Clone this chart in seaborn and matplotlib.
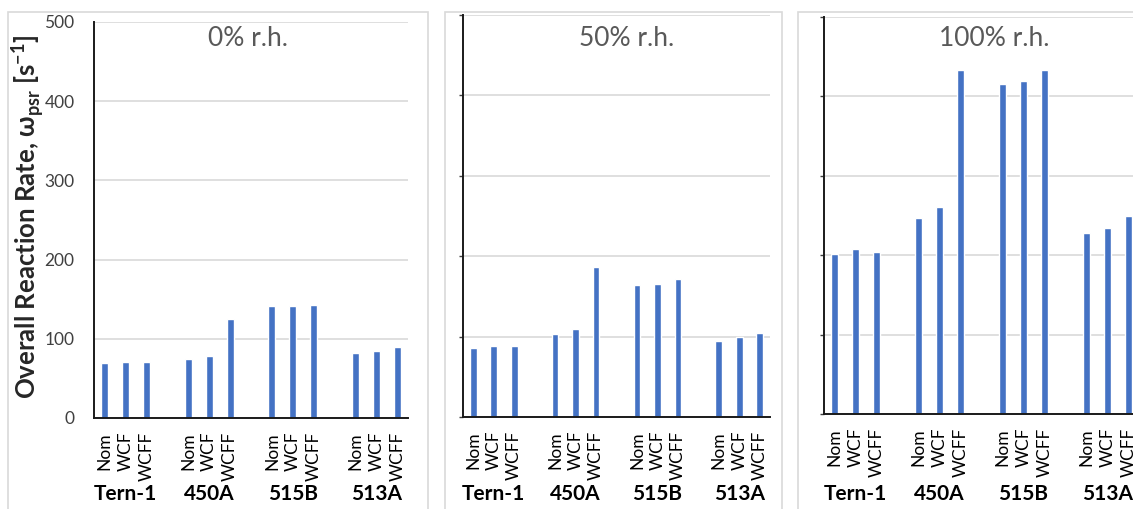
import pandas as pd
import matplotlib.pyplot as plt
import matplotlib.transforms as mtransforms
from matplotlib.patches import Rectangle
import seaborn as sns

# data
groups = ["Tern-1", "450A", "515B", "513A"]
variants = ["Nom", "WCF", "WCFF"]
humidity = ["0% r.h.", "50% r.h.", "100% r.h."]

rate_0rh = [69, 71, 71, 75, 78, 125, 141, 141, 143, 82, 84, 90]
rate_50rh = [86, 88, 88, 103, 110, 186, 164, 166, 172, 95, 99, 105]
rate_100rh = [202, 208, 204, 247, 261, 433, 416, 420, 433, 228, 234, 249]

yticks = [0, 100, 200, 300, 400, 500]

sns.set_theme(style="white")
plt.rcParams['font.family'] = ['Lato', 'DejaVu Sans']
plt.rcParams['mathtext.fontset'] = 'custom'
plt.rcParams['mathtext.rm'] = 'Lato'
plt.rcParams['mathtext.bf'] = 'Lato:bold'

rows = []
for rh, vals in zip(humidity, [rate_0rh, rate_50rh, rate_100rh]):
    i = 0
    for g in groups:
        for v in variants:
            rows.append({"rh": rh, "slot": f"{g} {v}", "rate": vals[i]})
            i += 1
df = pd.DataFrame(rows)

# category order, with one empty slot between groups
order = []
for k, g in enumerate(groups):
    order += [f"{g} {v}" for v in variants]
    if k < len(groups) - 1:
        order.append(f"gap{k}")
tick_labels = ["" if s.startswith("gap") else s.split(" ")[1] for s in order]
group_centers = [order.index(f"{g} {variants[1]}") for g in groups]

W, H = 1133, 509
# layout in pixels (left, top, right, bottom) and frames (left, top, right)
boxes = [(94, 22, 408, 418), (463, 15, 770, 417), (824, 17, 1139, 414)]
frames = [(8, 12, 428), (445, 12, 782), (798, 12, 1150)]
title_x = [248, 627, 994]

fig = plt.figure(figsize=(W / 100, H / 100), dpi=100)

for n, rh in enumerate(humidity):
    l, t, r, b = boxes[n]
    fl, ft, fr = frames[n]
    fig.add_artist(Rectangle((fl / W, -0.1), (fr - fl) / W, 1 - ft / H + 0.1,
                             transform=fig.transFigure, fill=False,
                             edgecolor='#d9d9d9', lw=1.2))
    ax = fig.add_axes([l / W, 1 - b / H, (r - l) / W, (b - t) / H])
    sns.barplot(data=df[df["rh"] == rh], x="slot", y="rate", order=order,
                color="#4472C4", saturation=1, width=0.33, errorbar=None, ax=ax)
    ax.set_xlim(-0.5, len(order) - 0.5)
    ax.set_ylim(0, 500)
    ax.set_xlabel("")
    ax.set_ylabel("")
    ax.set_xticks(range(len(order)))
    ax.set_xticklabels(tick_labels, rotation=90, fontsize=12.5, color='black')
    ax.tick_params(axis='x', length=0, pad=10)
    ax.set_yticks(yticks)
    if n == 0:
        ax.set_yticklabels([str(v) for v in yticks], fontsize=12.5, color='#404040')
        ax.tick_params(axis='y', length=0, pad=14)
    else:
        ax.set_yticklabels([])
        ax.tick_params(axis='y', left=True, length=3, width=1, color='#404040')
    ax.yaxis.grid(True, color='#d9d9d9', lw=1.2)
    ax.set_axisbelow(True)
    sns.despine(ax=ax)
    ax.spines['left'].set_color('#1a1a1a')
    ax.spines['left'].set_linewidth(1.4)
    ax.spines['bottom'].set_color('#1a1a1a')
    ax.spines['bottom'].set_linewidth(1.4)

    fig.text(title_x[n] / W, 1 - 38 / H, rh, ha='center', va='center',
             fontsize=19, color='#595959')

    trans = mtransforms.blended_transform_factory(ax.transData, fig.transFigure)
    for g, c in zip(groups, group_centers):
        ax.text(c, 1 - 494 / H, g, transform=trans, ha='center', va='center',
                fontsize=15, fontweight='bold', color='black')

fig.text(28 / W, 1 - 217 / H,
         r"Overall Reaction Rate, ω$_{\mathbf{psr}}$ [s$^{\mathbf{-1}}$]",
         rotation=90, ha='center', va='center', fontsize=18.5, fontweight='bold')

fig.savefig("out.png", dpi=100)
